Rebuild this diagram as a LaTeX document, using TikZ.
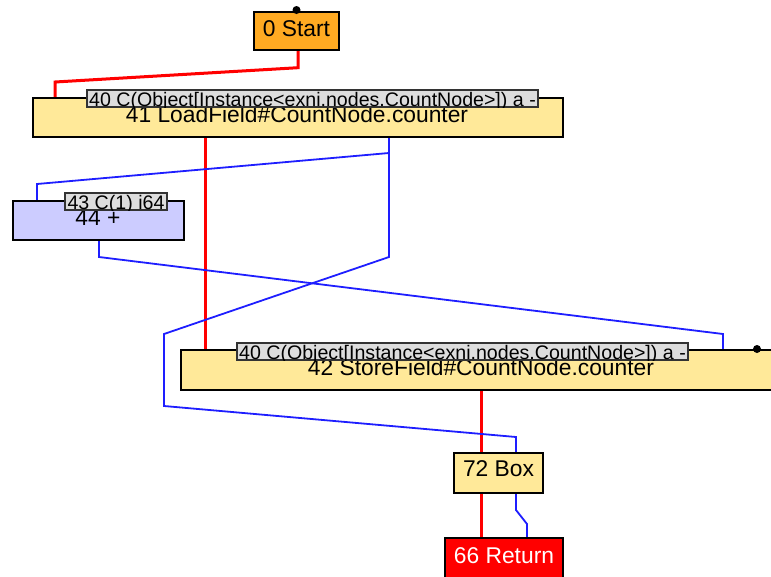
\documentclass[tikz,border=0pt]{standalone}
\usepackage{fontspec}
\setmainfont{Liberation Sans}
\definecolor{startorange}{RGB}{255,170,34}
\definecolor{nodeyellow}{RGB}{255,233,153}
\definecolor{nodelav}{RGB}{204,204,255}
\definecolor{lblgray}{RGB}{221,221,221}
\definecolor{edgeblue}{RGB}{30,30,255}
\tikzset{
  gbox/.style={draw=black, line width=1.5pt, inner sep=0pt, outer sep=0pt, anchor=north west},
  lblbox/.style={draw=black!80, fill=lblgray, line width=1.2pt, inner sep=0pt, outer sep=0pt, anchor=north west},
  maintext/.style={inner sep=0pt, anchor=base, font=\fontsize{22.8}{24}\selectfont},
  lbltext/.style={inner sep=0pt, anchor=base, font=\fontsize{19.6}{21}\selectfont},
  ctrl/.style={draw=red, line width=3pt},
  data/.style={draw=edgeblue, line width=1.8pt},
  pin/.style={circle, fill=black, inner sep=0pt, minimum size=8pt},
}
\begin{document}
\begin{tikzpicture}[x=1pt, y=-1pt]
\useasboundingbox (0,0) rectangle (771,576);

% pins on the boxes and bend points
\coordinate (s0) at (298,50);
\coordinate (l0) at (55,98);
\coordinate (l1) at (205,137);
\coordinate (l2) at (389,137);
\coordinate (p0) at (37,201);
\coordinate (p1) at (99,240);
\coordinate (st0) at (205,350);
\coordinate (st1) at (723,350);
\coordinate (st2) at (481,390);
\coordinate (b0) at (481,453);
\coordinate (b1) at (516,453);
\coordinate (b2) at (481,493);
\coordinate (b3) at (516,493);
\coordinate (r0) at (481,538);
\coordinate (r1) at (527,538);
\coordinate (split) at (389,153);

% connectors (drawn first, behind the boxes)
\draw[ctrl] (s0) -- (298,67.7) -- (55,82) -- (l0);
\draw[ctrl] (l1) -- (st0);
\draw[ctrl] (st2) -- (b0);
\draw[ctrl] (b2) -- (r0);
\draw[data] (l2) -- (389,257) -- (164,334) -- (164,406) -- (516,437) -- (b1);
\draw[data] (split) -- (37,184) -- (p0);
\draw[data] (p1) -- (99,257) -- (723,334) -- (st1);
\draw[data] (b3) -- (516,510) -- (527,524) -- (r1);

\begin{scope}
\clip (0,0) rectangle (771,576);
% nodes
\node[gbox, fill=startorange, minimum width=85, minimum height=38] (start) at (254,12) {};
\node[maintext] (startT) at (296.5,36) {0 Start};
\node[pin] (startpin) at (296.5,10) {};

\node[gbox, fill=nodeyellow, minimum width=530, minimum height=39] (load) at (33,98) {};
\node[maintext] (loadT) at (297,122) {41 LoadField\#CountNode.counter};
\node[lblbox, minimum width=451, minimum height=17] (loadL) at (87,90) {};
\begin{scope}
  \clip (loadL.south west) rectangle (loadL.north east);
  \node[lbltext] (loadLT) at (312.5,106) {40 C(Object[Instance<exni.nodes.CountNode>]) a -};
\end{scope}

\node[gbox, fill=nodelav, minimum width=171, minimum height=39] (plus) at (13,201) {};
\node[maintext] (plusT) at (98,225) {44 +};
\node[lblbox, minimum width=102, minimum height=17] (plusL) at (65,193) {};
\begin{scope}
  \clip (plusL.south west) rectangle (plusL.north east);
  \node[lbltext] (plusLT) at (116,209) {43 C(1) i64};
\end{scope}

\node[gbox, fill=nodeyellow, minimum width=600, minimum height=40] (store) at (181,350) {};
\node[maintext] (storeT) at (481,375) {42 StoreField\#CountNode.counter};
\node[lblbox, minimum width=451, minimum height=17] (storeL) at (237,343) {};
\begin{scope}
  \clip (storeL.south west) rectangle (storeL.north east);
  \node[lbltext] (storeLT) at (462.5,359) {40 C(Object[Instance<exni.nodes.CountNode>]) a -};
\end{scope}
\node[pin] (storepin) at (757,349) {};

\node[gbox, fill=nodeyellow, minimum width=89, minimum height=40] (box) at (454,453) {};
\node[maintext] (boxT) at (498.5,476) {72 Box};

\node[gbox, fill=red, minimum width=118, minimum height=40] (ret) at (445,538) {};
\node[maintext, text=white] (retT) at (504,563) {66 Return};
\end{scope}
\end{tikzpicture}
\end{document}
